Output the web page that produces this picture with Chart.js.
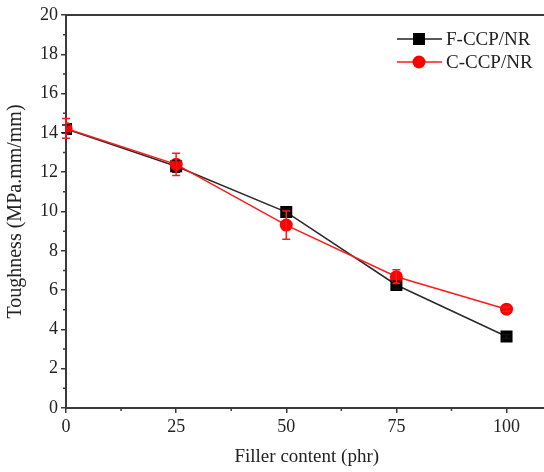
<!DOCTYPE html>
<html>
<head>
<meta charset="utf-8">
<script src="https://cdn.jsdelivr.net/npm/chart.js@4/dist/chart.umd.min.js"></script>
<style>
  html, body { margin: 0; padding: 0; background: #fff; overflow: hidden; }
  #wrap { width: 556px; height: 472px; }
</style>
</head>
<body>
<div id="wrap"><canvas id="chart"></canvas></div>
<script>
const filler = [0, 25, 50, 75, 100];
const fccpToughness = [14.2, 12.3, 9.97, 6.26, 3.64];
const fccpError = [0.2, 0.3, 0.15, 0.2, 0.1];
const cccpToughness = [14.23, 12.4, 9.31, 6.68, 5.03];
const cccpError = [0.5, 0.57, 0.72, 0.35, 0.1];
const yTicks = [0, 2, 4, 6, 8, 10, 12, 14, 16, 18, 20];
const xTicks = [0, 25, 50, 75, 100];

const axisColor = '#3a3a3a';
const textColor = '#222';
const serif = "'Liberation Serif', 'Times New Roman', serif";

// error bars, minor ticks, frame top and the legend box
const extras = {
  id: 'extras',
  afterDatasetsDraw(chart) {
    const ctx = chart.ctx;
    const xs = chart.scales.x, ys = chart.scales.y;

    const bars = [[fccpToughness, fccpError, '#111'], [cccpToughness, cccpError, '#ff1a1a']];
    ctx.save();
    ctx.lineWidth = 1.5;
    bars.forEach(([vals, errs, col]) => {
      ctx.strokeStyle = col;
      vals.forEach((v, i) => {
        const px = xs.getPixelForValue(filler[i]);
        const top = ys.getPixelForValue(v + errs[i]);
        const bot = ys.getPixelForValue(v - errs[i]);
        ctx.beginPath();
        ctx.moveTo(px, top); ctx.lineTo(px, bot);
        ctx.moveTo(px - 4, top); ctx.lineTo(px + 4, top);
        ctx.moveTo(px - 4, bot); ctx.lineTo(px + 4, bot);
        ctx.stroke();
      });
    });
    ctx.restore();
  },
  afterDraw(chart) {
    const ctx = chart.ctx;
    const xs = chart.scales.x, ys = chart.scales.y;
    const area = chart.chartArea;
    ctx.save();
    ctx.strokeStyle = axisColor;
    ctx.lineWidth = 1.5;
    // minor ticks
    ctx.beginPath();
    for (let v = 1; v < 20; v += 2) {
      const py = ys.getPixelForValue(v);
      ctx.moveTo(area.left, py); ctx.lineTo(area.left - 3, py);
    }
    for (let v = 12.5; v < xs.max; v += 25) {
      const px = xs.getPixelForValue(v);
      ctx.moveTo(px, area.bottom); ctx.lineTo(px, area.bottom + 3);
    }
    ctx.stroke();
    // top frame line
    ctx.lineWidth = 2;
    ctx.beginPath();
    ctx.moveTo(area.left, area.top); ctx.lineTo(area.right, area.top);
    ctx.stroke();

    // legend
    const rows = [
      { label: chart.data.datasets[0].label, color: '#222', fill: '#000', style: 'rect', y: 39 },
      { label: chart.data.datasets[1].label, color: '#ff1a1a', fill: '#ff0000', style: 'circle', y: 62 }
    ];
    ctx.font = '19px ' + serif;
    ctx.textBaseline = 'middle';
    rows.forEach(r => {
      ctx.strokeStyle = r.color;
      ctx.lineWidth = 1.5;
      ctx.beginPath();
      ctx.moveTo(397, r.y); ctx.lineTo(442, r.y);
      ctx.stroke();
      ctx.fillStyle = r.fill;
      if (r.style === 'rect') {
        ctx.fillRect(413, r.y - 6, 12, 12);
      } else {
        ctx.beginPath();
        ctx.arc(419, r.y, 6.5, 0, Math.PI * 2);
        ctx.fill();
      }
      ctx.fillStyle = textColor;
      ctx.fillText(r.label, 446, r.y + 1);
    });
    ctx.restore();
  }
};

new Chart(document.getElementById('chart'), {
  type: 'line',
  data: {
    datasets: [
      {
        label: 'F-CCP/NR',
        data: filler.map((x, i) => ({ x: x, y: fccpToughness[i] })),
        borderColor: '#2a2a2a',
        backgroundColor: '#000',
        borderWidth: 1.5,
        pointStyle: 'rect',
        pointRadius: 8.5,
        pointBorderWidth: 0,
        order: 1
      },
      {
        label: 'C-CCP/NR',
        data: filler.map((x, i) => ({ x: x, y: cccpToughness[i] })),
        borderColor: '#ff1a1a',
        backgroundColor: '#ff0000',
        borderWidth: 1.5,
        pointStyle: 'circle',
        pointRadius: 6.5,
        pointBorderWidth: 0,
        order: 0
      }
    ]
  },
  options: {
    responsive: true,
    maintainAspectRatio: false,
    animation: false,
    layout: { padding: { top: 15, left: 0, right: 0, bottom: 0 } },
    plugins: { legend: { display: false }, tooltip: { enabled: false } },
    scales: {
      x: {
        type: 'linear',
        min: 0,
        max: 109.3,
        afterBuildTicks: s => { s.ticks = xTicks.map(v => ({ value: v })); },
        afterFit: s => { s.height = 64; },
        border: { color: axisColor, width: 2 },
        grid: { drawOnChartArea: false, color: axisColor, tickLength: 5, lineWidth: 1.5 },
        ticks: { color: textColor, font: { family: serif, size: 18 }, padding: 3, maxRotation: 0 },
        title: { display: true, text: 'Filler content (phr)', color: textColor, font: { family: serif, size: 19 }, padding: { top: 3 } }
      },
      y: {
        min: 0,
        max: 20,
        afterBuildTicks: s => { s.ticks = yTicks.map(v => ({ value: v })); },
        afterFit: s => { s.width = 66; },
        border: { color: axisColor, width: 2 },
        grid: { drawOnChartArea: false, color: axisColor, tickLength: 5, lineWidth: 1.5 },
        ticks: { color: textColor, font: { family: serif, size: 18 }, padding: 3 },
        title: { display: true, text: 'Toughness (MPa.mm/mm)', color: textColor, font: { family: serif, size: 20 }, padding: { bottom: 2 } }
      }
    }
  },
  plugins: [extras]
});
</script>
</body>
</html>
